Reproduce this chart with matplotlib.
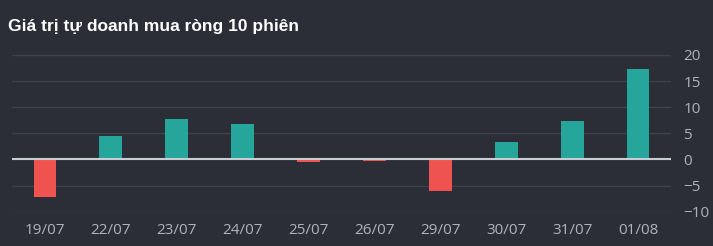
import matplotlib.pyplot as plt

# Datos del grafico
ngay = ["19/07", "22/07", "23/07", "24/07", "25/07", "26/07", "29/07", "30/07", "31/07", "01/08"]
gia_tri = [-7.1, 4.5, 7.7, 6.7, -0.4, -0.3, -6.1, 3.3, 7.4, 17.3]
y_ticks = [-10, -5, 0, 5, 10, 15, 20]

fondo = "#2b2e37"
verde = "#26a69a"
rojo = "#ef5350"
texto = "#b0b3bb"

fig = plt.figure(figsize=(7.13, 2.46), dpi=100, facecolor=fondo)
ax = fig.add_axes([12 / 713, 1 - 211.7 / 246, 659 / 713, (211.7 - 55) / 246])
ax.set_facecolor(fondo)

colores = [verde if v >= 0 else rojo for v in gia_tri]
ax.bar(range(len(ngay)), gia_tri, width=0.345, color=colores, zorder=3)

ax.set_xlim(-0.5, len(ngay) - 0.5)
ax.set_ylim(-10, 20)
ax.set_yticks(y_ticks)
ax.set_xticks(range(len(ngay)))
ax.set_xticklabels(ngay)
ax.yaxis.tick_right()
ax.grid(axis="y", color="#3e424b", linewidth=1, zorder=0)
ax.axhline(0, color="#c8ccd3", linewidth=1.5, zorder=4)

for s in ax.spines.values():
    s.set_visible(False)
ax.tick_params(axis="both", length=0, colors=texto, labelsize=11)
ax.tick_params(axis="x", pad=8)
ax.tick_params(axis="y", pad=9)
for lbl in ax.get_xticklabels() + ax.get_yticklabels():
    lbl.set_family("Open Sans")

fig.text(8 / 713, 1 - 26 / 246, "Giá trị tự doanh mua ròng 10 phiên", color="white",
         fontsize=12.5, fontweight="bold", family="Liberation Sans", va="center")

fig.savefig("out.png", facecolor=fondo)
